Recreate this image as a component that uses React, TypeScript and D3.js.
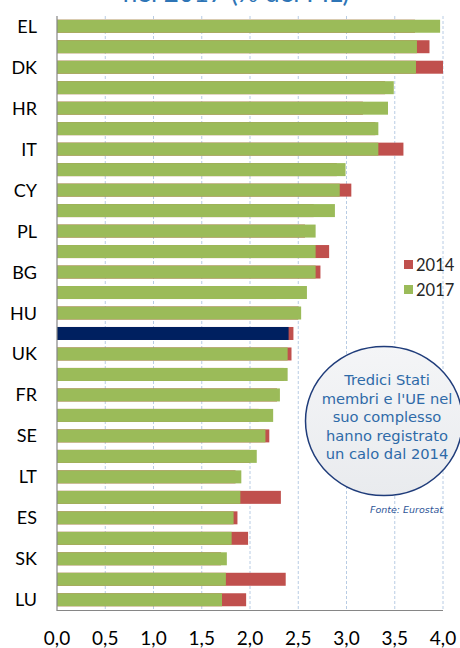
import React from "react";
import * as d3 from "d3";

const countries = ["EL","FI","DK","BE","HR","MT","IT","SI","CY","NL","PL","PT","BG","LV","HU","EU","UK","CZ","FR","EE","SE","AT","LT","RO","ES","DE","SK","IE","LU"];
const shownLabels = ["EL","DK","HR","IT","CY","PL","BG","HU","UK","FR","SE","LT","ES","SK","LU"];
const values2017 = [3.97,3.73,3.72,3.49,3.43,3.33,3.33,2.99,2.93,2.88,2.68,2.68,2.68,2.59,2.53,2.40,2.39,2.39,2.31,2.24,2.16,2.07,1.91,1.90,1.83,1.81,1.76,1.75,1.71];
const values2014 = [3.71,3.86,4.00,3.40,3.17,3.30,3.59,2.90,3.05,2.66,2.57,2.82,2.73,2.27,2.50,2.45,2.43,2.35,2.28,2.09,2.20,2.00,1.85,2.32,1.87,1.98,1.70,2.37,1.96];
const xTicks = [0,0.5,1,1.5,2,2.5,3,3.5,4];
const seriesNames = ["2014","2017"];
const noteLines = ["Tredici Stati","membri e l'UE nel","suo complesso","hanno registrato","un calo dal 2014"];

const W = 460, H = 648;
const GREEN = "#9BBB59", RED = "#C0504D", NAVY = "#002060";

export default function App() {
  const x = d3.scaleLinear().domain([0, 4]).range([57, 443]);
  const y = d3.scaleBand<string>().domain(countries).range([16, 610]).paddingInner(0.365).paddingOuter(0.1825);
  const bw = y.bandwidth();
  const fmt = (v: number) => d3.format(".1f")(v).replace(".", ",");
  const font = "Lato, 'Open Sans', sans-serif";
  return (
    <div style={{ position: "absolute", left: 0, top: 0 }}>
      <svg width={W} height={H} style={{ display: "block", background: "#fff" }}>
        <defs>
          <linearGradient id="cg" x1="0" y1="0" x2="0" y2="1">
            <stop offset="0" stopColor="#F4F5F7" />
            <stop offset="1" stopColor="#E9EBEE" />
          </linearGradient>
        </defs>
        <text x={236} y={2} textAnchor="middle" fontFamily={font} fontSize={26} fill="#2E75B6">nel 2017 (% del PIL)</text>
        {xTicks.slice(1).map((t) => (
          <line key={t} x1={x(t)} x2={x(t)} y1={16} y2={610} stroke="#B8CCE4" strokeWidth={1} strokeDasharray="3,2" />
        ))}
        {countries.map((c, i) => (
          <rect key={"r" + c} x={x(0)} y={y(c)} width={x(values2014[i]) - x(0)} height={bw} fill={RED} />
        ))}
        {countries.map((c, i) => (
          <rect key={"g" + c} x={x(0)} y={y(c)} width={x(values2017[i]) - x(0)} height={bw} fill={c === "EU" ? NAVY : GREEN} />
        ))}
        <line x1={57} x2={57} y1={16} y2={610.5} stroke="#868686" strokeWidth={1.2} />
        <line x1={56.5} x2={443} y1={610.5} y2={610.5} stroke="#868686" strokeWidth={1.2} />
        {countries.map((c) => shownLabels.includes(c) ? (
          <text key={"l" + c} x={37} y={(y(c) as number) + bw / 2 + 6.5} textAnchor="end" fontFamily={font} fontSize={18} fill="#000">{c}</text>
        ) : null)}
        {xTicks.map((t) => (
          <text key={"t" + t} x={x(t)} y={644.5} textAnchor="middle" fontFamily={font} fontSize={19} fill="#000">{fmt(t)}</text>
        ))}
        {seriesNames.map((s, i) => (
          <g key={s}>
            <rect x={404} y={260 + i * 25} width={9} height={9} fill={i === 0 ? RED : GREEN} />
            <text x={416} y={270.5 + i * 25} fontFamily={font} fontSize={16.5} fill="#262626">{s}</text>
          </g>
        ))}
        <ellipse cx={384} cy={421} rx={78.5} ry={74.5} fill="url(#cg)" stroke="#1F3C7A" strokeWidth={1.5} />
        {noteLines.map((l, i) => (
          <text key={l} x={387} y={385 + i * 18.5} textAnchor="middle" fontFamily="'DejaVu Sans', Verdana, sans-serif" fontSize={14.7} fill="#2E6AA8">{l}</text>
        ))}
        <text x={443} y={513} textAnchor="end" fontFamily="'DejaVu Sans', Verdana, sans-serif" fontStyle="italic" fontSize={9.5} fill="#2E5597">Fonte: Eurostat</text>
      </svg>
    </div>
  );
}
